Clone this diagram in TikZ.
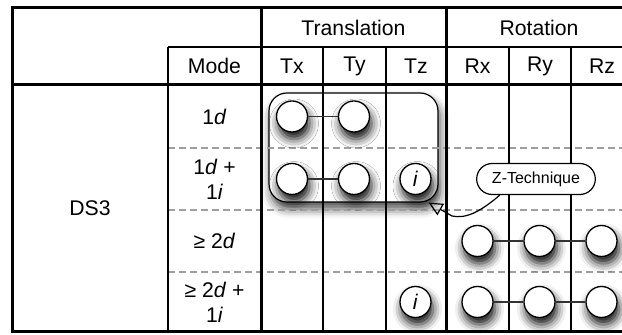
\documentclass[tikz,border=0pt]{standalone}
\usepackage{fontspec}
\setmainfont{Liberation Sans}
\usetikzlibrary{arrows.meta,shadows.blur,shapes.misc}
\begin{document}
\begin{tikzpicture}[
    x=0.5pt, y=-0.5pt,
    font=\fontsize{10.6}{12.5}\selectfont,
    label/.style={align=center, inner sep=0pt},
    thickrule/.style={line width=1.5pt},
    thinrule/.style={line width=1pt},
    rowsep/.style={line width=0.8pt, gray!75, dash pattern=on 3.5pt off 2pt},
    dof/.style={circle, draw, fill=white, line width=0.65pt, minimum size=15.5pt, inner sep=0pt,
        blur shadow={shadow xshift=1pt, shadow yshift=-3.5pt, shadow blur radius=4.5pt, shadow opacity=95}},
    link/.style={line width=0.6pt, black!80},
    grpbox/.style={draw, fill=white, rounded corners=9pt, line width=0.6pt,
        blur shadow={shadow xshift=1pt, shadow yshift=-3.5pt, shadow blur radius=4.5pt, shadow opacity=70}},
    tech/.style={rounded rectangle, draw, fill=white, line width=0.6pt, minimum width=66pt, minimum height=15.5pt,
        font=\fontsize{8}{10}\selectfont},
    arrow/.style={-{Triangle[open, length=7pt, width=6.5pt]}, line width=0.6pt},
]
    \useasboundingbox (0,0) rectangle (622,335);

    % group of the 1d / 1d+1i circles
    \node[grpbox, minimum width=84.5pt, minimum height=54.5pt] (grp) at (353.5,147.5) {};

    % row separators
    \draw[rowsep] (168,148) -- (640,148);
    \draw[rowsep] (168,210) -- (640,210);
    \draw[rowsep] (168,272) -- (640,272);

    % inner columns
    \draw[thinrule] (168,47) -- (640,47);
    \draw[thinrule] (168,47) -- (168,332);
    \foreach \cx in {323,386,509,571}
        \draw[thinrule] (\cx,47) -- (\cx,332);

    % outer frame
    \draw[thickrule] (640,8) -- (12,8) -- (12,332) -- (640,332);
    \draw[thickrule] (12,85) -- (640,85);
    \draw[thickrule] (261,8) -- (261,332);
    \draw[thickrule] (446,8) -- (446,332);

    % headers
    \node[label] (trans) at (353.5,27.5) {Translation};
    \node[label] (rot) at (539,27.5) {Rotation};
    \node[label] (mode) at (214.5,66) {Mode};
    \node[label] (tx) at (292,66) {Tx};
    \node[label] (ty) at (354.5,66) {Ty};
    \node[label] (tz) at (416,66) {Tz};
    \node[label] (rx) at (477.5,66) {Rx};
    \node[label] (ry) at (540,66) {Ry};
    \node[label] (rz) at (602,66) {Rz};
    \node[label] (ds) at (90,208.5) {DS3};

    % modes
    \node[label] (m1) at (214.5,116.5) {1\textit{d}};
    \node[label] (m2) at (214.5,179) {1\textit{d} +\\1\textit{i}};
    \node[label] (m3) at (214.5,241) {≥ 2\textit{d}};
    \node[label] (m4) at (214.5,302) {≥ 2\textit{d} +\\1\textit{i}};

    % 1d
    \node[dof] (a1) at (292,116.5) {};
    \node[dof] (a2) at (354,116.5) {};
    \draw[link] (a1) -- (a2);

    % 1d + 1i
    \node[dof] (b1) at (292,179) {};
    \node[dof] (b2) at (354,179) {};
    \node[dof] (b3) at (415.5,179) {\textit{i}};
    \draw[link] (b1) -- (b2);

    % >= 2d
    \node[dof] (c1) at (477.5,241) {};
    \node[dof] (c2) at (539.5,241) {};
    \node[dof] (c3) at (601.5,241) {};
    \draw[link] (c1) -- (c2) -- (c3);

    % >= 2d + 1i
    \node[dof] (d0) at (415.5,302) {\textit{i}};
    \node[dof] (d1) at (477.5,302) {};
    \node[dof] (d2) at (539.5,302) {};
    \node[dof] (d3) at (601.5,302) {};
    \draw[link] (d1) -- (d2) -- (d3);

    % Z-Technique callout
    \node[tech] (zt) at (536,179) {Z-Technique};
    \draw[arrow] (zt.-156) .. controls (480,212) and (466,219) .. (452,216) -- ([xshift=-5pt]grp.south east);
\end{tikzpicture}
\end{document}
